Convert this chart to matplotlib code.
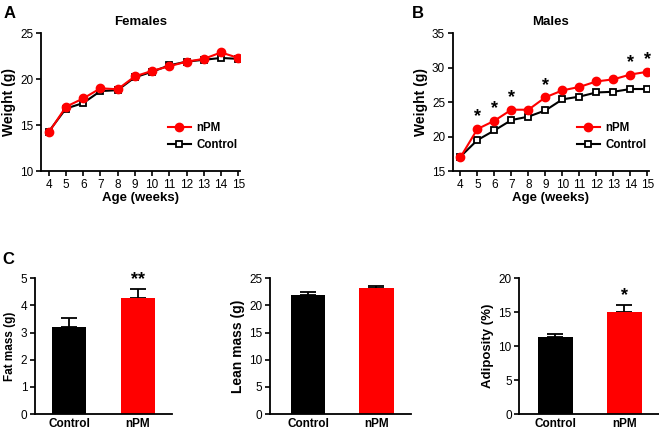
import numpy as np
from matplotlib import pyplot as plt

plt.rcParams['font.family'] = ['Liberation Sans', 'DejaVu Sans']

weeks = [4, 5, 6, 7, 8, 9, 10, 11, 12, 13, 14, 15]

fem_npm = [14.2, 17.0, 17.9, 19.0, 18.9, 20.3, 20.9, 21.4, 21.9, 22.2, 22.9, 22.3]
fem_ctrl = [14.3, 16.8, 17.4, 18.7, 18.8, 20.2, 20.8, 21.5, 21.9, 22.1, 22.3, 22.2]

male_npm = [17.0, 21.1, 22.3, 23.9, 23.9, 25.7, 26.7, 27.2, 28.0, 28.3, 29.0, 29.4]
male_ctrl = [17.1, 19.5, 20.9, 22.4, 22.9, 23.8, 25.4, 25.8, 26.4, 26.5, 26.9, 26.9]
male_sig = [5, 6, 7, 9, 14, 15]

groups = ['Control', 'nPM']
fat_mass = [3.2, 4.27]
fat_err = [0.32, 0.33]
lean_mass = [22.0, 23.2]
lean_err = [0.5, 0.4]
adiposity = [11.4, 15.0]
adip_err = [0.4, 1.0]

RED = '#ff0000'
TICK = 8.5


def style(ax):
    for s in ['top', 'right']:
        ax.spines[s].set_visible(False)
    for s in ['left', 'bottom']:
        ax.spines[s].set_linewidth(1.3)
    ax.tick_params(width=1.2, length=3.5, labelsize=TICK, pad=2)


def weight_panel(ax, npm, ctrl, ylim, yticks, title):
    ax.plot(weeks, ctrl, color='k', lw=1.5, marker='s', ms=5, mfc='white',
            mec='k', mew=1.3, label='Control', zorder=3)
    ax.plot(weeks, npm, color=RED, lw=1.5, marker='o', ms=6, mfc=RED,
            mec=RED, label='nPM', zorder=4)
    ax.set_xlim(3.55, 15.1)
    ax.set_ylim(*ylim)
    ax.set_xticks(weeks)
    ax.set_yticks(yticks)
    style(ax)
    ax.set_xlabel('Age (weeks)', fontsize=9.5, fontweight='bold', labelpad=1)
    ax.set_ylabel('Weight (g)', fontsize=10, fontweight='bold', labelpad=3)
    ax.set_title(title, fontsize=9.5, fontweight='bold', pad=6)
    h, l = ax.get_legend_handles_labels()
    ax.legend(h[::-1], l[::-1], loc='lower right', bbox_to_anchor=(1.04, 0.07),
              frameon=False, prop={'weight': 'bold', 'size': 8.3},
              handlelength=2.0, handletextpad=0.5, labelspacing=0.4)


def bar_panel(ax, vals, errs, ylim, yticks, ylabel, lsize, xlim, star=None):
    x = np.arange(len(groups))
    ax.bar(x, vals, width=0.5, color=['k', RED], zorder=2)
    ax.errorbar(x, vals, yerr=[np.zeros(len(errs)), errs], fmt='none',
                ecolor='k', elinewidth=1.3, capsize=6, capthick=1.3, zorder=1)
    ax.set_xlim(*xlim)
    ax.set_ylim(*ylim)
    ax.set_yticks(yticks)
    ax.set_xticks(x)
    ax.set_xticklabels(groups, fontsize=9.2, fontweight='bold')
    style(ax)
    ax.tick_params(axis='x', length=0, pad=3)
    ax.set_ylabel(ylabel, fontsize=lsize, fontweight='bold', labelpad=3)
    if star:
        ax.text(1, vals[1] + errs[1] + (ylim[1] - ylim[0]) * 0.01, star,
                ha='center', va='bottom', fontsize=13, fontweight='bold')


fig = plt.figure(figsize=(6.59, 4.30), dpi=100)

axA = fig.add_axes([0.0622, 0.602, 0.302, 0.321])
weight_panel(axA, fem_npm, fem_ctrl, (10, 25), [10, 15, 20, 25], 'Females')

axB = fig.add_axes([0.687, 0.602, 0.298, 0.321])
weight_panel(axB, male_npm, male_ctrl, (15, 35), [15, 20, 25, 30, 35], 'Males')
for w in male_sig:
    i = weeks.index(w)
    axB.text(w, male_npm[i] + 0.5, '*', ha='center', va='bottom',
             fontsize=13, fontweight='bold')

ax1 = fig.add_axes([0.053, 0.037, 0.208, 0.316])
bar_panel(ax1, fat_mass, fat_err, (0, 5), [0, 1, 2, 3, 4, 5], 'Fat mass (g)',
          8.5, (-0.5, 1.5), '**')

ax2 = fig.add_axes([0.410, 0.037, 0.214, 0.316])
bar_panel(ax2, lean_mass, lean_err, (0, 25), [0, 5, 10, 15, 20, 25],
          'Lean mass (g)', 10, (-0.56, 1.51))

ax3 = fig.add_axes([0.788, 0.037, 0.212, 0.316])
bar_panel(ax3, adiposity, adip_err, (0, 20), [0, 5, 10, 15, 20],
          'Adiposity (%)', 9.5, (-0.52, 1.5), '*')

fig.text(0.006, 0.985, 'A', fontsize=12, fontweight='bold', va='top')
fig.text(0.625, 0.985, 'B', fontsize=12, fontweight='bold', va='top')
fig.text(0.003, 0.415, 'C', fontsize=12, fontweight='bold', va='top')

fig.savefig('out.png', dpi=100)
